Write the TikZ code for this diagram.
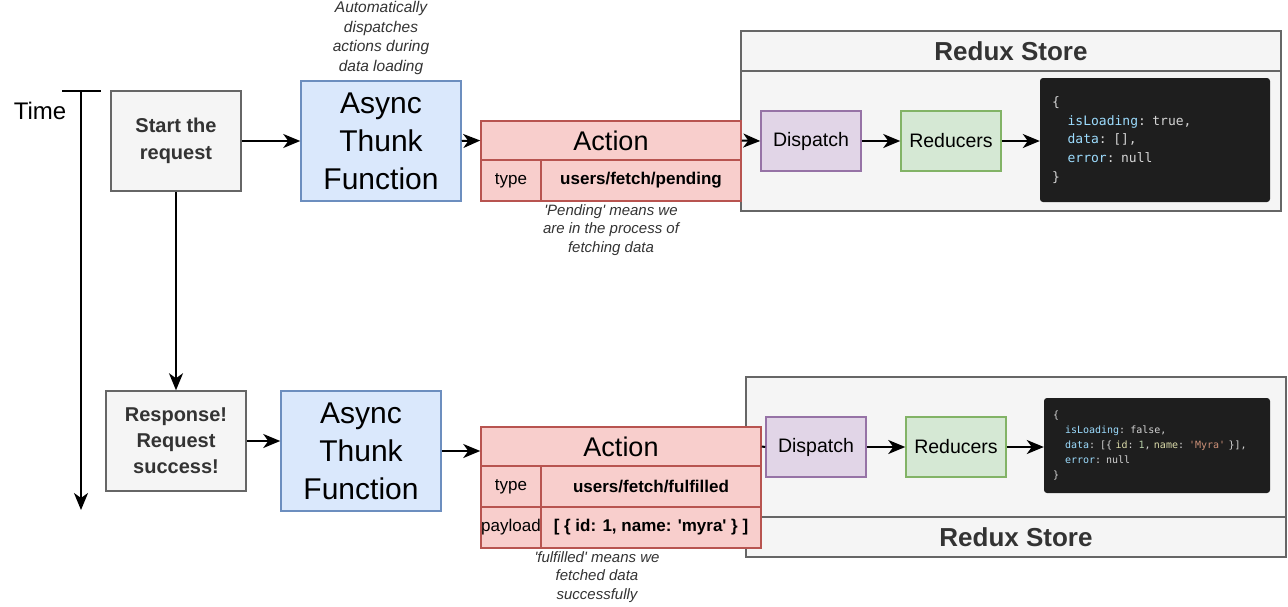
\documentclass[tikz,border=0pt]{standalone}
\usepackage{fontspec}
\setmainfont{Liberation Sans}
\setmonofont{DejaVu Sans Mono}
\usepackage{xcolor}
\usetikzlibrary{arrows.meta, positioning}
\definecolor{stepgray}{HTML}{F5F5F5}
\definecolor{stepline}{HTML}{666666}
\definecolor{textgray}{HTML}{333333}
\definecolor{thunkblue}{HTML}{DAE8FC}
\definecolor{thunkline}{HTML}{6C8EBF}
\definecolor{actionred}{HTML}{F8CECC}
\definecolor{actionline}{HTML}{B85450}
\definecolor{dispatchpurple}{HTML}{E1D5E7}
\definecolor{dispatchline}{HTML}{9673A6}
\definecolor{reducergreen}{HTML}{D5E8D4}
\definecolor{reducerline}{HTML}{82B366}
\definecolor{codebg}{HTML}{1E1E1E}
\definecolor{codefg}{HTML}{D4D4D4}
\definecolor{codekey}{HTML}{9CDCFE}
\definecolor{codeprop}{HTML}{DCDCAA}
\definecolor{codenum}{HTML}{B5CEA8}
\definecolor{codestr}{HTML}{CE9178}
\newcommand{\ind}{\phantom{xx}}

\begin{document}
\begin{tikzpicture}[x=1pt, y=-1pt,
    stepbox/.style={draw=stepline, fill=stepgray, line width=1.5pt, inner sep=0pt, align=center, text=textgray, font=\bfseries\fontsize{20}{27.5}\selectfont},
    thunk/.style={draw=thunkline, fill=thunkblue, line width=1.5pt, inner sep=0pt, align=center, minimum width=160pt, minimum height=120pt, font=\fontsize{30}{38}\selectfont},
    actcell/.style={draw=actionline, fill=actionred, line width=1.5pt, inner sep=0pt, align=center, font=\fontsize{17}{20}\selectfont},
    store/.style={draw=stepline, fill=stepgray, line width=1.5pt, inner sep=0pt, minimum width=540pt},
    storehead/.style={store, minimum height=40pt, text=textgray, font=\bfseries\fontsize{26}{30}\selectfont},
    dispatchbox/.style={draw=dispatchline, fill=dispatchpurple, line width=1.5pt, minimum width=100pt, minimum height=60pt, inner sep=0pt, font=\fontsize{19.5}{22}\selectfont},
    reducerbox/.style={draw=reducerline, fill=reducergreen, line width=1.5pt, minimum width=100pt, minimum height=60pt, inner sep=0pt, font=\fontsize{19.5}{22}\selectfont},
    codebox/.style={fill=codebg, rounded corners=3pt, inner ysep=0pt, align=left, text=codefg},
    note/.style={align=center, text=textgray, font=\itshape\fontsize{15}{18.5}\selectfont},
    arr/.style={-{Stealth[length=17pt, width=14pt, inset=5pt]}, line width=2pt},
    conn/.style={line width=2pt},
]
\useasboundingbox (0,0) rectangle (1288,606);

% Time axis
\node[font=\fontsize{24}{28}\selectfont] (time) at (40,111) {Time};
\coordinate (tickL) at (62,91);
\coordinate (tickR) at (101,91);
\coordinate (tEnd) at (81,510);
\draw[conn] (tickL) -- (tickR);
\draw[arr] (81,91) -- (tEnd);

% Top row: request starts
\node[stepbox, minimum width=130pt, minimum height=100pt] (start) at (176,141) {Start the\\request};
\node[thunk] (thunkT) at (381,141) {Async\\Thunk\\Function};
\node[note, font=\itshape\fontsize{15.5}{19.5}\selectfont] (autoNote) at (381,38) {Automatically\\dispatches\\actions during\\data loading};

\node[store, minimum height=180pt] (storeT) at (1011,121) {};
\node[storehead] (storeTh) at (1011,51) {Redux Store};

\node[actcell, minimum width=260pt, minimum height=39pt, font=\fontsize{27}{30}\selectfont] (actT) at (611,140.5) {Action};
\node[actcell, minimum width=60pt, minimum height=41pt] (actTk) at (511,180.5) {type};
\node[actcell, minimum width=200pt, minimum height=41pt, font=\bfseries\fontsize{17}{20}\selectfont] (actTv) at (641,180.5) {users/fetch/pending};
\node[note] (pendNote) at (611,230) {\textquotesingle Pending\textquotesingle{} means we\\are in the process of\\fetching data};

\node[dispatchbox] (dispT) at (811,141) {Dispatch};
\node[reducerbox] (redT) at (951,141) {Reducers};
\node[codebox, minimum width=230pt, minimum height=124pt, inner xsep=12pt, text width=206pt, font=\ttfamily\fontsize{13}{18.7}\selectfont] (codeT) at (1155,140) {%
\{\\
\ind\textcolor{codekey}{isLoading}: true,\\
\ind\textcolor{codekey}{data}: [],\\
\ind\textcolor{codekey}{error}: null\\
\}};

\draw[arr] (start.east) -- (thunkT.west |- start.east);
\draw[arr] (thunkT.east) -- (actT.west);
\draw[arr] (actT.east) -- (dispT.west);
\draw[arr] (dispT) -- (redT);
\draw[arr] (redT) -- (codeT.west |- redT);

% Bottom row: response arrives
\node[stepbox, minimum width=140pt, minimum height=100pt, font=\bfseries\fontsize{20}{26}\selectfont] (resp) at (176,441) {Response!\\Request\\success!};
\node[thunk] (thunkB) at (361,451) {Async\\Thunk\\Function};

\node[store, minimum height=180pt] (storeB) at (1016,467) {};
\node[storehead] (storeBh) at (1016,537) {Redux Store};

\node[actcell, minimum width=280pt, minimum height=39pt, font=\fontsize{27}{30}\selectfont] (actB) at (621,446.5) {Action};
\node[actcell, minimum width=60pt, minimum height=41pt] (actBk) at (511,486.5) {type};
\node[actcell, minimum width=220pt, minimum height=41pt, font=\bfseries\fontsize{17}{20}\selectfont] (actBv) at (651,486.5) {users/fetch/fulfilled};
\node[actcell, minimum width=60pt, minimum height=41pt] (actBk2) at (511,527.5) {payload};
\node[actcell, minimum width=220pt, minimum height=41pt, font=\bfseries\fontsize{17}{20}\selectfont] (actBv2) at (651,527.5) {[ \{ id: 1, name: \textquotesingle myra\textquotesingle{} \} ]};
\node[note] (fulNote) at (597,577) {\textquotesingle fulfilled\textquotesingle{} means we\\fetched data\\successfully};

\node[dispatchbox] (dispB) at (816,447) {Dispatch};
\node[reducerbox] (redB) at (956,447) {Reducers};
\node[codebox, minimum width=226pt, minimum height=95pt, inner xsep=9pt, text width=208pt, font=\ttfamily\fontsize{10}{15}\selectfont] (codeB) at (1157,445.5) {%
\{\\
\ind\textcolor{codekey}{isLoading}: false,\\
\ind\textcolor{codekey}{data}: [\{ \textcolor{codeprop}{id}: \textcolor{codenum}{1}, \textcolor{codeprop}{name}: \textcolor{codestr}{\textquotesingle Myra\textquotesingle} \}],\\
\ind\textcolor{codekey}{error}: null\\
\}};

\draw[arr] (start) -- (resp);
\draw[arr] (resp.east) -- (thunkB.west |- resp.east);
\draw[arr] (thunkB.east) -- (actB.west |- thunkB.east);
\draw[conn] (actB.east) -- (dispB.west);
\draw[arr] (dispB) -- (redB);
\draw[arr] (redB) -- (codeB.west |- redB);

\end{tikzpicture}
\end{document}
